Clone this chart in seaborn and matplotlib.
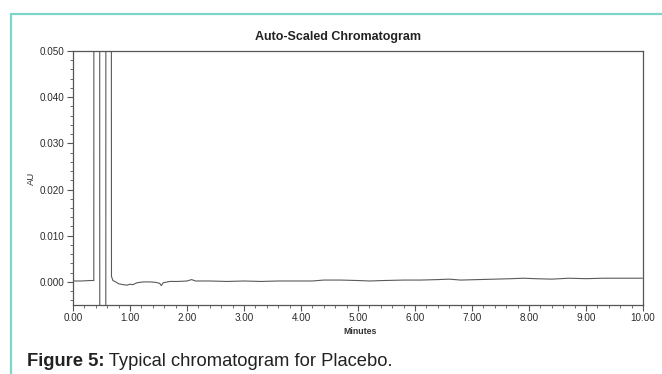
import matplotlib
matplotlib.use("Agg")
import matplotlib.pyplot as plt
import seaborn as sns
import pandas as pd
from matplotlib.ticker import MultipleLocator, FormatStrFormatter
from matplotlib.lines import Line2D

# ---- data ----
time_min = [0.00, 0.15, 0.30, 0.365, 0.37, 0.465, 0.47, 0.575, 0.58, 0.665,
            0.675, 0.70, 0.75, 0.80, 0.88, 0.95, 1.00, 1.05, 1.12, 1.23,
            1.35, 1.45, 1.52, 1.55, 1.58, 1.70, 1.85, 2.00, 2.08, 2.15,
            2.40, 2.70, 3.00, 3.30, 3.60, 3.90, 4.20, 4.40, 4.70, 5.00,
            5.20, 5.45, 5.80, 6.10, 6.40, 6.60, 6.80, 7.10, 7.40, 7.70,
            7.90, 8.10, 8.40, 8.70, 9.00, 9.30, 9.60, 9.99]
absorbance = [0.0002, 0.0002, 0.0003, 0.0003, 0.30, 0.30, -0.05, -0.05, 0.30, 0.30,
              0.0012, 0.0003, 0.0000, -0.0004, -0.0006, -0.0007, -0.0005, -0.0006, -0.0002, 0.0000,
              0.0000, -0.0001, -0.0003, -0.0008, -0.0002, 0.0001, 0.0001, 0.0002, 0.0005, 0.0002,
              0.0002, 0.0001, 0.0002, 0.0001, 0.0002, 0.0002, 0.0002, 0.0004, 0.0004, 0.0003,
              0.0002, 0.0003, 0.0004, 0.0004, 0.0005, 0.0006, 0.0004, 0.0005, 0.0006, 0.0007,
              0.0008, 0.0007, 0.0006, 0.0008, 0.0007, 0.0008, 0.0008, 0.0008]
x_ticks = [0, 1, 2, 3, 4, 5, 6, 7, 8, 9, 10]
y_ticks = [0.000, 0.010, 0.020, 0.030, 0.040, 0.050]

title = "Auto-Scaled Chromatogram"
xlabel = "Minutes"
ylabel = "AU"
caption_bold = "Figure 5:"
caption_rest = " Typical chromatogram for Placebo."

df = pd.DataFrame({"Minutes": time_min, "AU": absorbance})

sns.set_theme(style="white")
plt.rcParams["font.family"] = ["Liberation Sans", "DejaVu Sans"]

W, H = 662, 374
fig = plt.figure(figsize=(W / 100, H / 100), dpi=100)
ax = fig.add_axes([73 / W, 1 - 305 / H, (643 - 73) / W, (305 - 51) / H])

sns.lineplot(data=df, x="Minutes", y="AU", ax=ax, sort=False, estimator=None,
             color="#5a5a5a", linewidth=0.8)

ax.set_xlim(0, 10)
ax.set_ylim(-0.005, 0.050)
ax.set_xticks(x_ticks)
ax.set_yticks(y_ticks)
ax.xaxis.set_major_formatter(FormatStrFormatter("%.2f"))
ax.yaxis.set_major_formatter(FormatStrFormatter("%.3f"))
ax.xaxis.set_minor_locator(MultipleLocator(0.2))
ax.yaxis.set_minor_locator(MultipleLocator(0.002))
ax.tick_params(axis="both", which="major", direction="out", length=4, width=0.8,
               color="#555555", labelsize=7.1, labelcolor="#2a2a2a", pad=2,
               bottom=True, left=True)
ax.tick_params(axis="both", which="minor", direction="out", length=2, width=0.6,
               color="#555555", bottom=True, left=True)
ax.set_xlabel("")
ax.set_ylabel("")
for s in ax.spines.values():
    s.set_visible(True)
    s.set_color("#555555")
    s.set_linewidth(0.9)

fig.text(338 / W, 1 - 37 / H, title, ha="center", va="center", fontsize=9,
         fontweight="bold", color="#222222")
fig.text(360 / W, 1 - 331 / H, xlabel, ha="center", va="center", fontsize=6.3,
         fontweight="bold", color="#333333")
fig.text(31 / W, 1 - 178 / H, ylabel, ha="center", va="center", fontsize=6.8,
         rotation=90, color="#333333")

cap = fig.text(27 / W, 1 - 362 / H, caption_bold, ha="left", va="center",
               fontsize=13.2, fontweight="bold", color="#222222")
fig.canvas.draw()
bb = cap.get_window_extent()
fig.text(bb.x1 / W, 1 - 362 / H, caption_rest, ha="left", va="center",
         fontsize=13.2, color="#222222")

# teal frame (top and left edges visible)
teal = "#7dd6c8"
fig.add_artist(Line2D([11 / W, 1.0], [1 - 14 / H, 1 - 14 / H], color=teal, lw=1.6,
                      transform=fig.transFigure))
fig.add_artist(Line2D([11 / W, 11 / W], [0.0, 1 - 14 / H], color=teal, lw=1.6,
                      transform=fig.transFigure))

fig.savefig("out.png", dpi=100)
